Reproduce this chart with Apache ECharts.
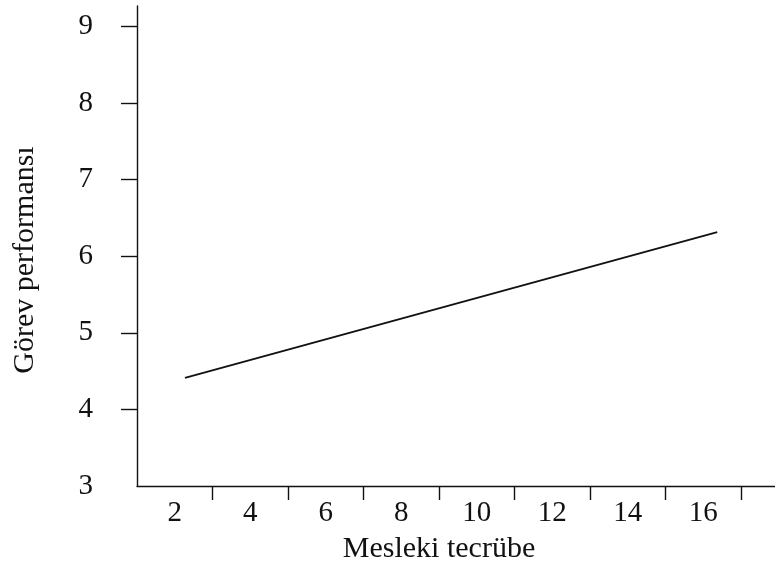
<!DOCTYPE html>
<html>
<head>
<meta charset="utf-8">
<script src="https://cdn.jsdelivr.net/npm/echarts@6/dist/echarts.min.js"></script>
<style>
  html, body { margin: 0; padding: 0; background: #fff; }
  #chart { width: 775px; height: 565px; }
</style>
</head>
<body>
<div id="chart"></div>
<script>
// Predicted task performance across professional experience
const xName = 'Mesleki tecrübe';
const yName = 'Görev performansı';
const xLabelValues = [2, 4, 6, 8, 10, 12, 14, 16];
const xTickValues = [3, 5, 7, 9, 11, 13, 15, 17];
const yLabelValues = [3, 4, 5, 6, 7, 8, 9];
const yTickValues = [4, 5, 6, 7, 8, 9];
const experience = [2.27, 16.37];
const performance = [4.41, 6.315];

const FONT = '"Liberation Serif", "Times New Roman", serif';
const INK = '#111';

const chart = echarts.init(document.getElementById('chart'), null, { renderer: 'canvas' });

chart.setOption({
  backgroundColor: '#fff',
  animation: false,
  grid: { left: 137, right: 0, top: 6, bottom: 79, containLabel: false },
  xAxis: {
    type: 'value',
    min: 1,
    max: 17.9,
    axisLine: { show: true, onZero: false, lineStyle: { color: INK, width: 1.4 } },
    axisTick: { show: true, length: 14, customValues: xTickValues, lineStyle: { color: INK, width: 1.4 } },
    axisLabel: { show: true, customValues: xLabelValues, margin: 13, color: INK, fontFamily: FONT, fontSize: 29 },
    splitLine: { show: false }
  },
  yAxis: {
    type: 'value',
    min: 3,
    max: 9.265,
    axisLine: { show: true, onZero: false, lineStyle: { color: INK, width: 1.4 } },
    axisTick: { show: true, length: 16, customValues: yTickValues, lineStyle: { color: INK, width: 1.4 } },
    axisLabel: { show: true, customValues: yLabelValues, margin: 44, padding: [6, 0, 0, 0], color: INK, fontFamily: FONT, fontSize: 29 },
    splitLine: { show: false }
  },
  graphic: [
    {
      type: 'text',
      x: 439, y: 549,
      style: { text: xName, fill: INK, font: '30px ' + FONT, align: 'center', verticalAlign: 'middle' }
    },
    {
      type: 'text',
      x: 25, y: 260,
      rotation: Math.PI / 2,
      style: { text: yName, fill: INK, font: '30px ' + FONT, align: 'center', verticalAlign: 'middle' }
    }
  ],
  series: [{
    type: 'line',
    data: experience.map((x, i) => [x, performance[i]]),
    symbol: 'none',
    lineStyle: { color: INK, width: 1.8 }
  }]
});
</script>
</body>
</html>
